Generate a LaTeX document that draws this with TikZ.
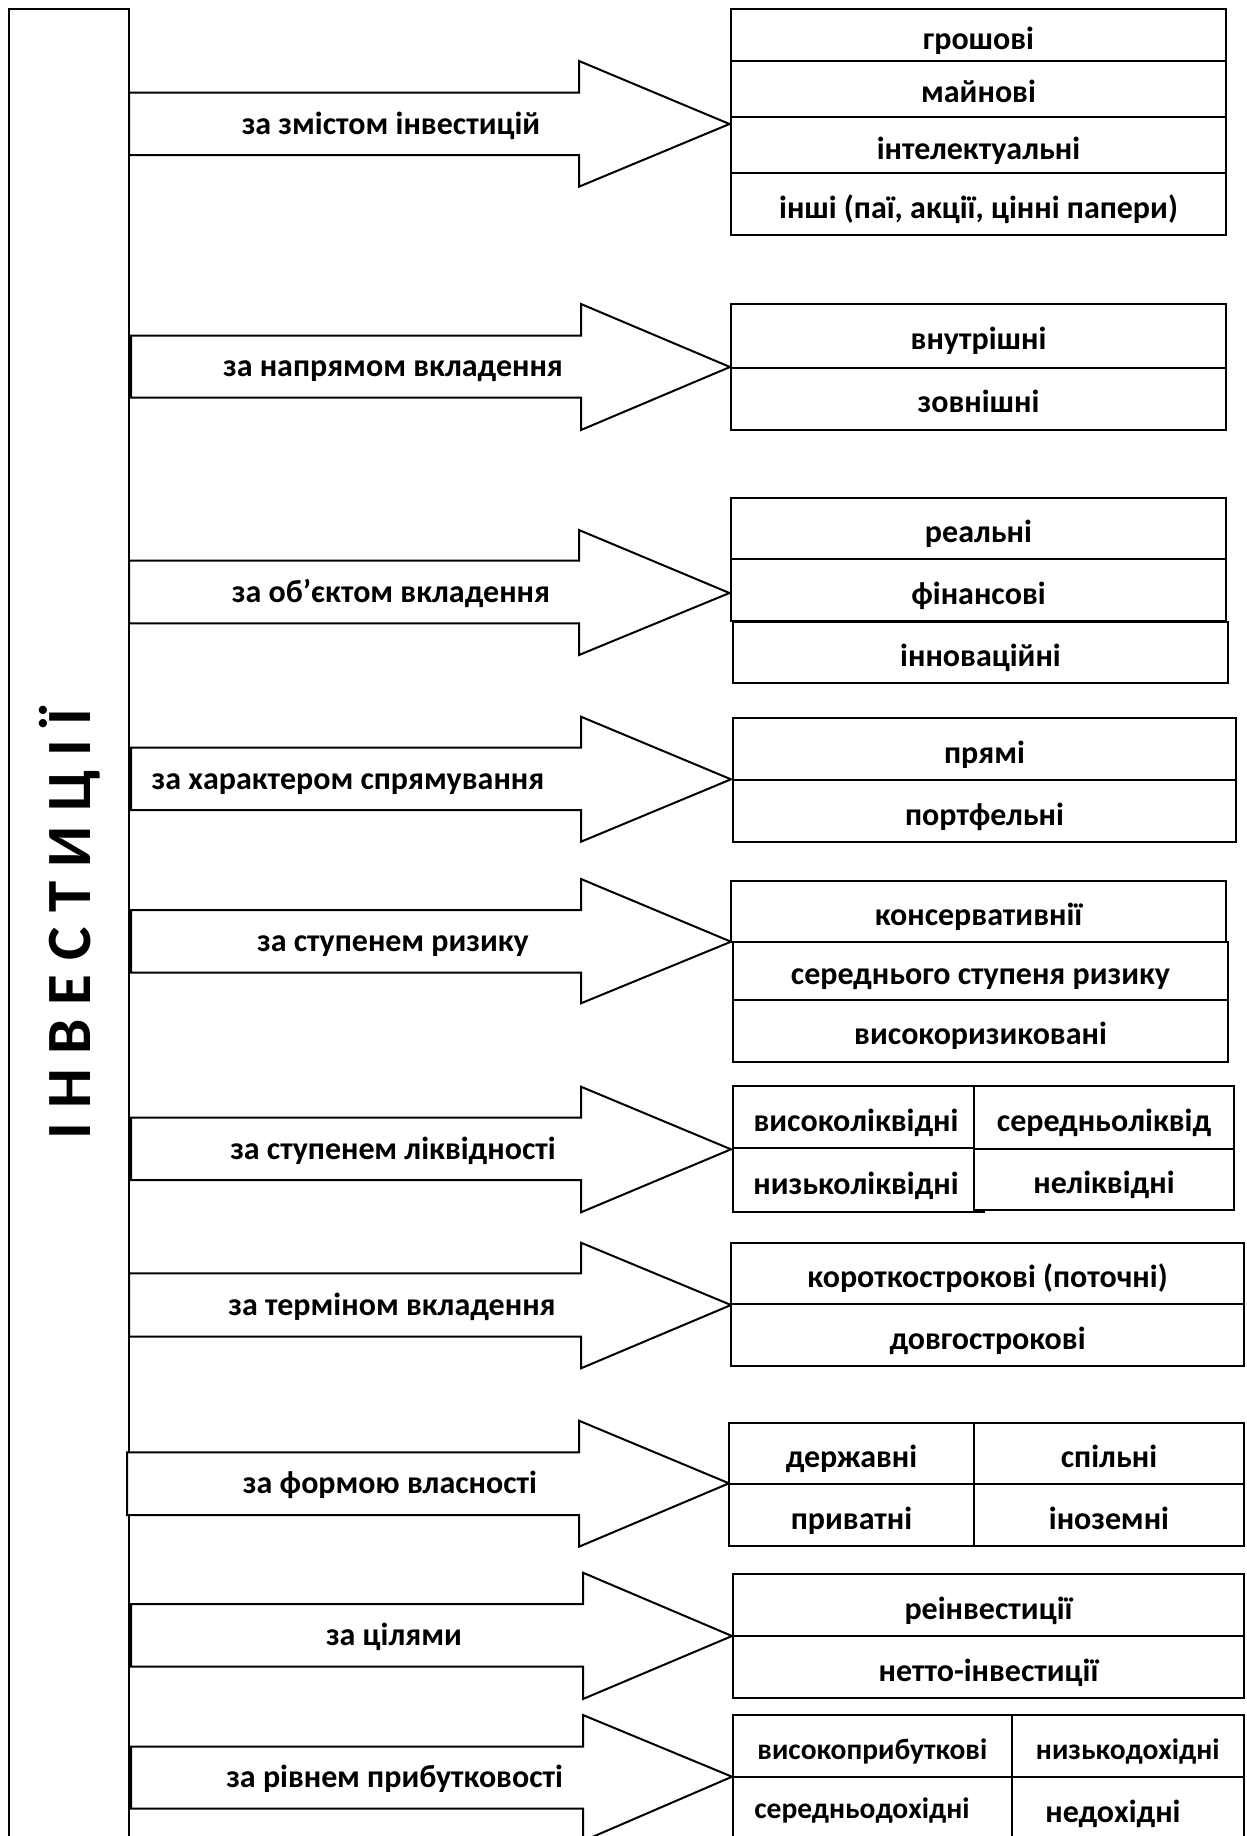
\documentclass[tikz,border=0pt]{standalone}
\usepackage{fontspec}
\setmainfont{Carlito}
\newcommand\lblfont{\bfseries\fontsize{32}{38}\selectfont}
\newcommand\smallfont{\bfseries\fontsize{29.5}{35}\selectfont}
\newcommand\bigfont{\bfseries\fontsize{63}{70}\selectfont}
\tikzset{
  ln/.style={line width=2pt, line join=miter},
  cell/.style={draw, ln, fill=white, inner sep=0pt, text height=30pt, text depth=2pt, font=\lblfont},
  smallcell/.style={cell, font=\smallfont},
  blockarrow/.style={draw, ln, fill=white},
  arrowlabel/.style={inner sep=0pt, text height=22pt, text depth=2pt, font=\lblfont},
}
\newcommand\mkcell[7][]{%
  \node[cell, #1, minimum width={(#5-#3)*1pt}, minimum height={(#6-#4)*1pt}] (#2) at ({(#3+#5)/2},{(#4+#6)/2}) {#7};}
\begin{document}
\begin{tikzpicture}[x=1pt, y=-1pt]
\path[use as bounding box] (0,0) rectangle (1247,1836);
\clip (0,0) rectangle (1247,1836);
\fill[white] (0,0) rectangle (1247,1836);
% main vertical box
\draw[ln] (9.3,1850) -- (9.3,9.3) -- (129,9.3) -- (129,1850);
\node[rotate=90, anchor=base, inner sep=0pt, font=\bigfont] (inv) at (90.5,924) {І Н В Е С Т И Ц І Ї};
% block arrows
\foreach \va/\vb/\vc/\vd/\ve/\vf/\vg/\vh [count=\i] in {
  129/92.7/155/579/61/186.7/729.5/124,
  131/335.7/397.7/581/304/430/730/367,
  129/560.7/623.3/579/530/655/729.5/593,
  131/747.7/810/581/716.7/841.7/731/779.3,
  131/910/972.7/581/879/1003.3/731/941.7,
  131/1117.7/1180/581/1086.7/1212.3/731/1149.3,
  129/1273.3/1336.7/581/1242.7/1368.3/731/1305,
  127/1452.3/1515/579/1420.7/1546.7/729/1483.3,
  131/1604/1666.7/583/1572.7/1699/732/1636,
  131/1746.7/1808.7/583/1715/1841/732/1776.7}
{
  \draw[blockarrow] (\va,\vb) -- (\vd,\vb) -- (\vd,\ve) -- (\vg,\vh) -- (\vd,\vf) -- (\vd,\vc) -- (\va,\vc) -- cycle;
}
% arrow labels
\node[arrowlabel] (lab1) at (391,124) {за змістом інвестицій};
\node[arrowlabel] (lab2) at (393,366.7) {за напрямом вкладення};
\node[arrowlabel] (lab3) at (391,592) {за об’єктом вкладення};
\node[arrowlabel] (lab4) at (348,779) {за характером спрямування};
\node[arrowlabel] (lab5) at (393,941.3) {за ступенем ризику};
\node[arrowlabel] (lab6) at (393,1149) {за ступенем ліквідності};
\node[arrowlabel] (lab7) at (392,1305) {за терміном вкладення};
\node[arrowlabel] (lab8) at (390,1483.7) {за формою власності};
\node[arrowlabel] (lab9) at (394,1635.3) {за цілями};
\node[arrowlabel] (lab10) at (394.6,1777.7) {за рівнем прибутковості};
% group 1
\mkcell{b11}{731}{9.3}{1226}{61}{грошові}
\mkcell{b12}{731}{61}{1226}{116.7}{майнові}
\mkcell{b13}{731}{116.7}{1226}{173.3}{інтелектуальні}
\mkcell{b14}{731}{173.3}{1226}{235}{інші (паї, акції, цінні папери)}
% group 2
\mkcell{b21}{731}{304}{1226}{367.7}{внутрішні}
\mkcell{b22}{731}{367.7}{1226}{430}{зовнішні}
% group 3
\mkcell{b31}{731}{497.7}{1226}{559}{реальні}
\mkcell{b32}{731}{559}{1226}{621}{фінансові}
\mkcell{b33}{733}{622}{1228}{683.3}{інноваційні}
% group 4
\mkcell{b41}{733}{718.3}{1236}{780}{прямі}
\mkcell{b42}{733}{780}{1236}{842.3}{портфельні}
% group 5
\mkcell{b51}{731}{880.7}{1226}{941.7}{консервативнії}
\mkcell{b52}{733}{941.7}{1228}{1000}{середнього ступеня ризику}
\mkcell{b53}{733}{1000}{1228}{1061.7}{високоризиковані}
% group 6
\mkcell{b61}{733}{1086}{984}{1148}{}
\mkcell{b63}{733}{1148}{984}{1212.3}{}
\mkcell{b62}{974}{1086}{1234}{1149.3}{середньоліквід}
\mkcell{b64}{974}{1149.3}{1234}{1210}{неліквідні}
\node[arrowlabel, text height=30pt] (t61) at (856,1117) {високоліквідні};
\node[arrowlabel, text height=30pt] (t63) at (856,1180) {низьколіквідні};
% group 7
\mkcell{b71}{731}{1242.7}{1244}{1304}{короткострокові (поточні)}
\mkcell{b72}{731}{1304}{1244}{1366}{довгострокові}
% group 8
\mkcell{b81}{729}{1422.7}{974}{1484}{державні}
\mkcell{b82}{974}{1422.7}{1244}{1484}{спільні}
\mkcell{b83}{729}{1484}{974}{1546}{приватні}
\mkcell{b84}{974}{1484}{1244}{1546}{іноземні}
% group 9
\mkcell{b91}{733}{1574}{1244}{1636}{реінвестиції}
\mkcell{b92}{733}{1636}{1244}{1698.3}{нетто-інвестиції}
% group 10
\mkcell[smallcell]{b101}{733}{1715}{1011.6}{1776.7}{високоприбуткові}
\mkcell[smallcell]{b102}{1011.6}{1715}{1244}{1776.7}{низькодохідні}
\mkcell{b103}{733}{1776.7}{1011.6}{1845}{}
\mkcell{b104}{1011.6}{1776.7}{1244}{1845}{}
\node[arrowlabel, font=\smallfont, text height=28pt] (t103) at (862,1805) {середньодохідні};
\node[arrowlabel, text height=30pt] (t104) at (1113,1808) {недохідні};
\end{tikzpicture}
\end{document}
